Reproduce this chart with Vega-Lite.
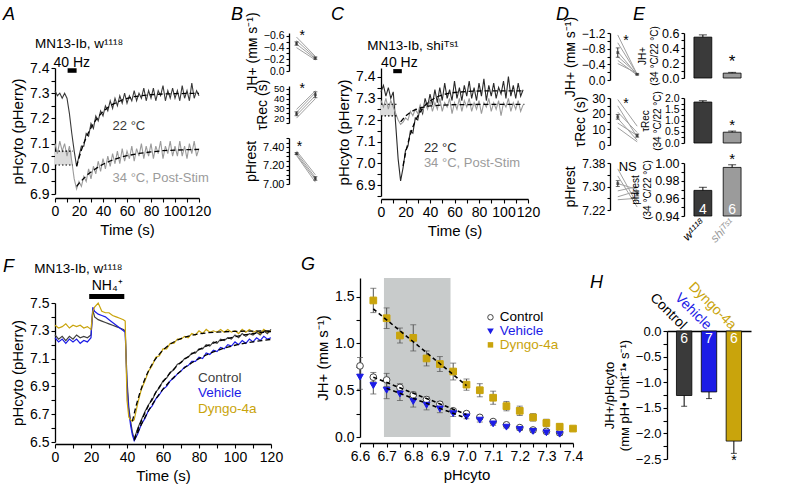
{
"$schema":"https://vega.github.io/schema/vega-lite/v6.json",
"background":"white",
"padding":{"left":2,"top":5,"right":2,"bottom":2},
"config":{"font":"Liberation Sans","view":{"stroke":null},
 "axis":{"grid":false,"domainColor":"#000","tickColor":"#000","labelColor":"#000","titleColor":"#000","titleFontWeight":"normal","labelFontSize":14,"titleFontSize":15,"tickSize":4,"labelPadding":2,"titlePadding":4,"labelOverlap":false,"labelSeparation":-500,"labelFlush":false,"domainWidth":1.3,"tickWidth":1.1}},
"spacing":245,"bounds":"flush",
"resolve":{"scale":{"color":"independent","fill":"independent","stroke":"independent","shape":"independent"}},
"vconcat":[
{"hconcat":[
 {"vconcat":[
  {"width":144,"height":35,"data":{"values":[]},"mark":"text"},
  {"width":144,"height":126,
   "layer":[
    {"data":{"values":[{}]},"mark":{"type":"rect","color":"#dcdcdc"},"encoding":{"x":{"datum":0},"x2":{"datum":14},"y":{"datum":7.015},"y2":{"datum":7.07}}},
    {"data":{"values":[
{"t":0,"d":7.31,"g":7.10},{"t":2,"d":7.29,"g":7.06},{"t":4,"d":7.30,"g":7.11},{"t":6,"d":7.28,"g":7.07},{"t":8,"d":7.30,"g":7.10},{"t":10,"d":7.28,"g":7.05},{"t":12,"d":7.22,"g":7.09},{"t":14,"d":7.14,"g":7.03},{"t":16,"d":7.07,"g":6.96},{"t":18,"d":7.01,"g":6.92},{"t":20,"d":7.05,"g":6.95},{"t":22,"d":7.09,"g":6.93},{"t":24,"d":7.09,"g":6.97},{"t":26,"d":7.14,"g":6.95},{"t":28,"d":7.13,"g":7.00},{"t":30,"d":7.18,"g":6.96},{"t":32,"d":7.16,"g":7.01},{"t":34,"d":7.21,"g":6.98},{"t":36,"d":7.19,"g":7.03},{"t":38,"d":7.23,"g":6.99},{"t":40,"d":7.21,"g":7.04},{"t":42,"d":7.25,"g":7.00},{"t":44,"d":7.23,"g":7.05},{"t":46,"d":7.27,"g":7.01},{"t":48,"d":7.24,"g":7.06},{"t":50,"d":7.28,"g":7.02},{"t":52,"d":7.25,"g":7.07},{"t":54,"d":7.29,"g":7.02},{"t":56,"d":7.26,"g":7.08},{"t":58,"d":7.30,"g":7.03},{"t":60,"d":7.26,"g":7.07},{"t":62,"d":7.29,"g":7.04},{"t":64,"d":7.27,"g":7.09},{"t":66,"d":7.31,"g":7.03},{"t":68,"d":7.27,"g":7.08},{"t":70,"d":7.30,"g":7.05},{"t":72,"d":7.28,"g":7.10},{"t":74,"d":7.32,"g":7.04},{"t":76,"d":7.27,"g":7.09},{"t":78,"d":7.31,"g":7.05},{"t":80,"d":7.28,"g":7.10},{"t":82,"d":7.32,"g":7.04},{"t":84,"d":7.27,"g":7.09},{"t":86,"d":7.31,"g":7.06},{"t":88,"d":7.29,"g":7.11},{"t":90,"d":7.33,"g":7.04},{"t":92,"d":7.27,"g":7.09},{"t":94,"d":7.31,"g":7.06},{"t":96,"d":7.28,"g":7.11},{"t":98,"d":7.32,"g":7.05},{"t":100,"d":7.28,"g":7.09},{"t":102,"d":7.31,"g":7.05},{"t":104,"d":7.27,"g":7.11},{"t":106,"d":7.33,"g":7.05},{"t":108,"d":7.28,"g":7.09},{"t":110,"d":7.31,"g":7.04},{"t":112,"d":7.27,"g":7.10},{"t":114,"d":7.34,"g":7.06},{"t":116,"d":7.28,"g":7.11},{"t":118,"d":7.31,"g":7.05},{"t":120,"d":7.29,"g":7.08}]},
     "transform":[{"fold":["g","d"],"as":["k","v"]}],
     "mark":{"type":"line","strokeWidth":1.1},
     "encoding":{
      "x":{"field":"t","type":"quantitative","scale":{"domain":[0,120],"nice":false},"axis":{"values":[0,10,20,30,40,50,60,70,80,90,100,110,120],"tickCount":100,"labelExpr":"datum.value % 20 == 0 ? format(datum.value,'d') : ''","title":"Time (s)","offset":4}},
      "y":{"field":"v","type":"quantitative","scale":{"domain":[6.9,7.4],"nice":false,"zero":false},"axis":{"values":[6.9,6.95,7,7.05,7.1,7.15,7.2,7.25,7.3,7.35,7.4],"tickCount":100,"labelExpr":"round(datum.value*20)%2==0 ? format(datum.value,'.1f') : ''","title":"pHcyto (pHerry)"}},
      "color":{"field":"k","type":"nominal","scale":{"domain":["d","g"],"range":["#3a3a3a","#9b9b9b"]},"legend":null}}},
    {"data":{"values":[
{"k":"d","t":18,"v":7.010},{"k":"d","t":20,"v":7.044},{"k":"d","t":22,"v":7.074},{"k":"d","t":24,"v":7.101},{"k":"d","t":26,"v":7.124},{"k":"d","t":28,"v":7.145},{"k":"d","t":30,"v":7.163},{"k":"d","t":32,"v":7.179},{"k":"d","t":34,"v":7.193},{"k":"d","t":36,"v":7.206},{"k":"d","t":38,"v":7.217},{"k":"d","t":40,"v":7.227},{"k":"d","t":44,"v":7.243},{"k":"d","t":48,"v":7.256},{"k":"d","t":52,"v":7.265},{"k":"d","t":56,"v":7.273},{"k":"d","t":60,"v":7.279},{"k":"d","t":66,"v":7.286},{"k":"d","t":72,"v":7.290},{"k":"d","t":80,"v":7.294},{"k":"d","t":90,"v":7.297},{"k":"d","t":100,"v":7.298},{"k":"d","t":110,"v":7.299},{"k":"d","t":120,"v":7.299},
{"k":"g","t":18,"v":6.930},{"k":"g","t":20,"v":6.942},{"k":"g","t":24,"v":6.962},{"k":"g","t":28,"v":6.980},{"k":"g","t":32,"v":6.994},{"k":"g","t":36,"v":7.007},{"k":"g","t":40,"v":7.018},{"k":"g","t":45,"v":7.029},{"k":"g","t":50,"v":7.038},{"k":"g","t":55,"v":7.046},{"k":"g","t":60,"v":7.052},{"k":"g","t":70,"v":7.061},{"k":"g","t":80,"v":7.067},{"k":"g","t":90,"v":7.072},{"k":"g","t":100,"v":7.074},{"k":"g","t":110,"v":7.076},{"k":"g","t":120,"v":7.077}]},
     "mark":{"type":"line","color":"#000","strokeDash":[5,3],"strokeWidth":1.3},
     "encoding":{"x":{"field":"t","type":"quantitative"},"y":{"field":"v","type":"quantitative"},"detail":{"field":"k"}}},
    {"data":{"values":[{}]},"mark":{"type":"rule","strokeDash":[1.5,2],"color":"#000","strokeWidth":1.2},"encoding":{"x":{"datum":0},"x2":{"datum":15},"y":{"datum":7.07}}},
    {"data":{"values":[{}]},"mark":{"type":"rule","strokeDash":[1.5,2],"color":"#000","strokeWidth":1.2},"encoding":{"x":{"datum":0},"x2":{"datum":15},"y":{"datum":7.015}}},
    {"data":{"values":[{}]},"mark":{"type":"rect","color":"#000"},"encoding":{"x":{"datum":10.5},"x2":{"datum":18},"y":{"datum":7.381},"y2":{"datum":7.399}}},
    {"data":{"values":[{}]},"mark":{"type":"text","text":"40 Hz","fontSize":14,"baseline":"middle"},"encoding":{"x":{"datum":14},"y":{"datum":7.42}}},
    {"data":{"values":[{}]},"mark":{"type":"text","text":"MN13-Ib, w¹¹¹⁸","fontSize":13.5,"baseline":"middle"},"encoding":{"x":{"datum":20},"y":{"datum":7.495}}},
    {"data":{"values":[{}]},"mark":{"type":"text","text":"22 °C","fontSize":13,"align":"left","baseline":"middle","color":"#3a3a3a"},"encoding":{"x":{"datum":48},"y":{"datum":7.17}}},
    {"data":{"values":[{}]},"mark":{"type":"text","text":"34 °C, Post-Stim","fontSize":13,"align":"left","baseline":"middle","color":"#9b9b9b"},"encoding":{"x":{"datum":48},"y":{"datum":6.965}}},
    {"data":{"values":[{}]},"mark":{"type":"text","text":"A","fontSize":18,"fontStyle":"italic","align":"left","baseline":"top"},"encoding":{"x":{"datum":-43.3},"y":{"datum":7.646}}}
   ]}
 ],"spacing":0,"bounds":"flush"},
 {"width":234,"height":1,"data":{"values":[]},"mark":"text"},
 {"vconcat":[
  {"width":32,"height":38,
   "layer":[
    {"data":{"values":[{"id":1,"c":0,"v":-0.58},{"id":1,"c":1,"v":-0.25},{"id":2,"c":0,"v":-0.52},{"id":2,"c":1,"v":-0.23},{"id":3,"c":0,"v":-0.46},{"id":3,"c":1,"v":-0.21},{"id":4,"c":0,"v":-0.40},{"id":4,"c":1,"v":-0.19}]},
     "mark":{"type":"line","color":"#a0a0a0","strokeWidth":1},
     "encoding":{"x":{"field":"c","type":"quantitative","scale":{"domain":[-0.4,1.3],"nice":false,"zero":false},"axis":null},
      "y":{"field":"v","type":"quantitative","scale":{"domain":[-0.65,0],"reverse":true,"nice":false,"zero":false},"axis":{"values":[-0.6,-0.5,-0.4,-0.3,-0.2,-0.1,0],"tickCount":100,"labelExpr":"indexof([-0.6,-0.4,-0.2,0],datum.value)>=0 ? format(datum.value,'.1f') : ''","title":"JH+ (mᴍ s⁻¹)","labelFontSize":10.5,"titleFontSize":14,"tickSize":3}},
      "detail":{"field":"id"}}},
    {"data":{"values":[{"c":0,"m":-0.47,"lo":-0.50,"hi":-0.44},{"c":1,"m":-0.22,"lo":-0.24,"hi":-0.20}]},
     "layer":[
      {"mark":{"type":"rule","color":"#333"},"encoding":{"x":{"field":"c","type":"quantitative"},"y":{"field":"lo","type":"quantitative"},"y2":{"field":"hi"}}},
      {"mark":{"type":"tick","orient":"horizontal","color":"#333","size":4,"thickness":1},"encoding":{"x":{"field":"c","type":"quantitative"},"y":{"field":"lo","type":"quantitative"}}},
      {"mark":{"type":"tick","orient":"horizontal","color":"#333","size":4,"thickness":1},"encoding":{"x":{"field":"c","type":"quantitative"},"y":{"field":"hi","type":"quantitative"}}},
      {"mark":{"type":"point","shape":"square","filled":true,"color":"#333","size":8},"encoding":{"x":{"field":"c","type":"quantitative"},"y":{"field":"m","type":"quantitative"}}}]},
    {"data":{"values":[{}]},"mark":{"type":"text","text":"*","fontSize":14,"baseline":"middle"},"encoding":{"x":{"datum":0.3},"y":{"datum":-0.6}}},
    {"data":{"values":[{}]},"mark":{"type":"text","text":"B","fontSize":18,"fontStyle":"italic","align":"left","baseline":"top"},"encoding":{"x":{"datum":-3.48},"y":{"datum":-1.112}}}
   ]},
  {"width":32,"height":37,
   "layer":[
    {"data":{"values":[{"id":1,"c":0,"v":20},{"id":1,"c":1,"v":40},{"id":2,"c":0,"v":23},{"id":2,"c":1,"v":43},{"id":3,"c":0,"v":26},{"id":3,"c":1,"v":46},{"id":4,"c":0,"v":29},{"id":4,"c":1,"v":48}]},
     "mark":{"type":"line","color":"#a0a0a0","strokeWidth":1},
     "encoding":{"x":{"field":"c","type":"quantitative","scale":{"domain":[-0.4,1.3],"nice":false,"zero":false},"axis":null},
      "y":{"field":"v","type":"quantitative","scale":{"domain":[15,53],"nice":false,"zero":false},"axis":{"values":[15,20,25,30,35,40,45,50],"tickCount":100,"labelExpr":"datum.value%10==0 ? format(datum.value,'d') : ''","title":"τRec (s)","labelFontSize":9.5,"titleFontSize":14,"tickSize":3}},
      "detail":{"field":"id"}}},
    {"data":{"values":[{"c":0,"m":24.5,"lo":22.5,"hi":26.5},{"c":1,"m":44,"lo":41,"hi":47}]},
     "layer":[
      {"mark":{"type":"rule","color":"#333"},"encoding":{"x":{"field":"c","type":"quantitative"},"y":{"field":"lo","type":"quantitative"},"y2":{"field":"hi"}}},
      {"mark":{"type":"tick","orient":"horizontal","color":"#333","size":4,"thickness":1},"encoding":{"x":{"field":"c","type":"quantitative"},"y":{"field":"lo","type":"quantitative"}}},
      {"mark":{"type":"tick","orient":"horizontal","color":"#333","size":4,"thickness":1},"encoding":{"x":{"field":"c","type":"quantitative"},"y":{"field":"hi","type":"quantitative"}}},
      {"mark":{"type":"point","shape":"square","filled":true,"color":"#333","size":8},"encoding":{"x":{"field":"c","type":"quantitative"},"y":{"field":"m","type":"quantitative"}}}]},
    {"data":{"values":[{}]},"mark":{"type":"text","text":"*","fontSize":14,"baseline":"middle"},"encoding":{"x":{"datum":0.3},"y":{"datum":50}}}
   ]},
  {"width":32,"height":46,
   "layer":[
    {"data":{"values":[{"id":1,"c":0,"v":7.36},{"id":1,"c":1,"v":7.10},{"id":2,"c":0,"v":7.34},{"id":2,"c":1,"v":7.07},{"id":3,"c":0,"v":7.32},{"id":3,"c":1,"v":7.05},{"id":4,"c":0,"v":7.31},{"id":4,"c":1,"v":7.02}]},
     "mark":{"type":"line","color":"#a0a0a0","strokeWidth":1},
     "encoding":{"x":{"field":"c","type":"quantitative","scale":{"domain":[-0.4,1.3],"nice":false,"zero":false},"axis":null},
      "y":{"field":"v","type":"quantitative","scale":{"domain":[7.0,7.5],"nice":false,"zero":false},"axis":{"values":[7,7.05,7.1,7.15,7.2,7.25,7.3,7.35,7.4,7.45,7.5],"tickCount":100,"labelExpr":"round(datum.value*100)%20==0 && datum.value<7.45 ? format(datum.value,'.2f') : ''","title":"pHrest","labelFontSize":11,"titleFontSize":14,"tickSize":3}},
      "detail":{"field":"id"}}},
    {"data":{"values":[{"c":0,"m":7.33,"lo":7.32,"hi":7.34},{"c":1,"m":7.06,"lo":7.04,"hi":7.08}]},
     "layer":[
      {"mark":{"type":"rule","color":"#333"},"encoding":{"x":{"field":"c","type":"quantitative"},"y":{"field":"lo","type":"quantitative"},"y2":{"field":"hi"}}},
      {"mark":{"type":"tick","orient":"horizontal","color":"#333","size":4,"thickness":1},"encoding":{"x":{"field":"c","type":"quantitative"},"y":{"field":"lo","type":"quantitative"}}},
      {"mark":{"type":"tick","orient":"horizontal","color":"#333","size":4,"thickness":1},"encoding":{"x":{"field":"c","type":"quantitative"},"y":{"field":"hi","type":"quantitative"}}},
      {"mark":{"type":"point","shape":"square","filled":true,"color":"#333","size":8},"encoding":{"x":{"field":"c","type":"quantitative"},"y":{"field":"m","type":"quantitative"}}}]},
    {"data":{"values":[{}]},"mark":{"type":"text","text":"*","fontSize":14,"baseline":"middle"},"encoding":{"x":{"datum":0.15},"y":{"datum":7.4}}}
   ]}
 ],"spacing":15,"bounds":"flush"},
 {"width":92,"height":1,"data":{"values":[]},"mark":"text"},
 {"vconcat":[
  {"width":147,"height":35,"data":{"values":[]},"mark":"text"},
  {"width":147,"height":128,
   "layer":[
    {"data":{"values":[{}]},"mark":{"type":"rect","color":"#dcdcdc"},"encoding":{"x":{"datum":0},"x2":{"datum":12},"y":{"datum":7.219},"y2":{"datum":7.273}}},
    {"data":{"values":[
{"t":0,"d":7.33,"g":7.29},{"t":2,"d":7.36,"g":7.26},{"t":4,"d":7.31,"g":7.30},{"t":6,"d":7.35,"g":7.25},{"t":8,"d":7.30,"g":7.29},{"t":10,"d":7.33,"g":7.26},{"t":12,"d":7.18,"g":7.23},{"t":14,"d":7.02,"g":7.20},{"t":16,"d":6.92,"g":7.18},{"t":18,"d":6.98,"g":7.19},{"t":20,"d":7.06,"g":7.21},{"t":22,"d":7.08,"g":7.20},{"t":24,"d":7.15,"g":7.24},{"t":26,"d":7.14,"g":7.22},{"t":28,"d":7.21,"g":7.25},{"t":30,"d":7.20,"g":7.23},{"t":32,"d":7.26,"g":7.27},{"t":34,"d":7.23,"g":7.24},{"t":36,"d":7.30,"g":7.28},{"t":38,"d":7.26,"g":7.25},{"t":40,"d":7.32,"g":7.29},{"t":42,"d":7.27,"g":7.24},{"t":44,"d":7.34,"g":7.28},{"t":46,"d":7.28,"g":7.25},{"t":48,"d":7.35,"g":7.30},{"t":50,"d":7.29,"g":7.24},{"t":52,"d":7.37,"g":7.28},{"t":54,"d":7.30,"g":7.26},{"t":56,"d":7.34,"g":7.30},{"t":58,"d":7.29,"g":7.23},{"t":60,"d":7.38,"g":7.28},{"t":62,"d":7.30,"g":7.25},{"t":64,"d":7.35,"g":7.30},{"t":66,"d":7.29,"g":7.24},{"t":68,"d":7.36,"g":7.29},{"t":70,"d":7.31,"g":7.26},{"t":72,"d":7.38,"g":7.30},{"t":74,"d":7.30,"g":7.24},{"t":76,"d":7.35,"g":7.28},{"t":78,"d":7.29,"g":7.25},{"t":80,"d":7.37,"g":7.29},{"t":82,"d":7.31,"g":7.23},{"t":84,"d":7.39,"g":7.28},{"t":86,"d":7.29,"g":7.26},{"t":88,"d":7.36,"g":7.30},{"t":90,"d":7.31,"g":7.24},{"t":92,"d":7.37,"g":7.28},{"t":94,"d":7.30,"g":7.25},{"t":96,"d":7.35,"g":7.29},{"t":98,"d":7.32,"g":7.22},{"t":100,"d":7.38,"g":7.28},{"t":102,"d":7.30,"g":7.26},{"t":104,"d":7.40,"g":7.30},{"t":106,"d":7.31,"g":7.24},{"t":108,"d":7.36,"g":7.28},{"t":110,"d":7.30,"g":7.25},{"t":112,"d":7.37,"g":7.29},{"t":114,"d":7.31,"g":7.24},{"t":116,"d":7.34,"g":7.27}]},
     "transform":[{"fold":["d","g"],"as":["k","v"]}],
     "mark":{"type":"line","strokeWidth":1.1},
     "encoding":{
      "x":{"field":"t","type":"quantitative","scale":{"domain":[0,120],"nice":false},"axis":{"values":[0,10,20,30,40,50,60,70,80,90,100,110,120],"tickCount":100,"labelExpr":"datum.value % 20 == 0 ? format(datum.value,'d') : ''","title":"Time (s)","offset":3}},
      "y":{"field":"v","type":"quantitative","scale":{"domain":[6.85,7.44],"nice":false,"zero":false},"axis":{"values":[6.85,6.9,6.95,7,7.05,7.1,7.15,7.2,7.25,7.3,7.35,7.4],"tickCount":100,"labelExpr":"round(datum.value*20)%2==0 ? format(datum.value,'.1f') : ''","title":"pHcyto (pHerry)"}},
      "color":{"field":"k","type":"nominal","scale":{"domain":["d","g"],"range":["#2a2a2a","#9b9b9b"]},"legend":null}}},
    {"data":{"values":[
{"k":"d","t":18,"v":6.989},{"k":"d","t":20,"v":7.047},{"k":"d","t":22,"v":7.094},{"k":"d","t":24,"v":7.134},{"k":"d","t":26,"v":7.168},{"k":"d","t":28,"v":7.196},{"k":"d","t":30,"v":7.219},{"k":"d","t":32,"v":7.238},{"k":"d","t":34,"v":7.254},{"k":"d","t":36,"v":7.268},{"k":"d","t":38,"v":7.279},{"k":"d","t":40,"v":7.288},{"k":"d","t":44,"v":7.302},{"k":"d","t":48,"v":7.312},{"k":"d","t":52,"v":7.319},{"k":"d","t":56,"v":7.324},{"k":"d","t":60,"v":7.327},{"k":"d","t":70,"v":7.332},{"k":"d","t":80,"v":7.334},{"k":"d","t":100,"v":7.335},{"k":"d","t":117,"v":7.335},
{"k":"g","t":16,"v":7.192},{"k":"g","t":20,"v":7.218},{"k":"g","t":24,"v":7.236},{"k":"g","t":28,"v":7.248},{"k":"g","t":32,"v":7.256},{"k":"g","t":36,"v":7.261},{"k":"g","t":40,"v":7.265},{"k":"g","t":50,"v":7.269},{"k":"g","t":60,"v":7.271},{"k":"g","t":80,"v":7.272},{"k":"g","t":117,"v":7.272}]},
     "mark":{"type":"line","color":"#000","strokeDash":[5,3],"strokeWidth":1.3},
     "encoding":{"x":{"field":"t","type":"quantitative"},"y":{"field":"v","type":"quantitative"},"detail":{"field":"k"}}},
    {"data":{"values":[{}]},"mark":{"type":"rule","strokeDash":[1.5,2],"color":"#000","strokeWidth":1.2},"encoding":{"x":{"datum":0},"x2":{"datum":14},"y":{"datum":7.273}}},
    {"data":{"values":[{}]},"mark":{"type":"rule","strokeDash":[1.5,2],"color":"#000","strokeWidth":1.2},"encoding":{"x":{"datum":0},"x2":{"datum":14},"y":{"datum":7.219}}},
    {"data":{"values":[{}]},"mark":{"type":"rect","color":"#000"},"encoding":{"x":{"datum":10},"x2":{"datum":17},"y":{"datum":7.416},"y2":{"datum":7.435}}},
    {"data":{"values":[{}]},"mark":{"type":"text","text":"40 Hz","fontSize":14,"baseline":"middle"},"encoding":{"x":{"datum":15},"y":{"datum":7.463}}},
    {"data":{"values":[{}]},"mark":{"type":"text","text":"MN13-Ib, shiᵀˢ¹","fontSize":13.5,"baseline":"middle"},"encoding":{"x":{"datum":26},"y":{"datum":7.541}}},
    {"data":{"values":[{}]},"mark":{"type":"text","text":"22 °C","fontSize":13,"align":"left","baseline":"middle","color":"#2a2a2a"},"encoding":{"x":{"datum":35},"y":{"datum":7.07}}},
    {"data":{"values":[{}]},"mark":{"type":"text","text":"34 °C, Post-Stim","fontSize":13,"align":"left","baseline":"middle","color":"#9b9b9b"},"encoding":{"x":{"datum":35},"y":{"datum":7.0}}},
    {"data":{"values":[{}]},"mark":{"type":"text","text":"C","fontSize":18,"fontStyle":"italic","align":"left","baseline":"top"},"encoding":{"x":{"datum":-40.8},"y":{"datum":7.726}}}
   ]}
 ],"spacing":0,"bounds":"flush"},
 {"width":229,"height":1,"data":{"values":[]},"mark":"text"},
 {"vconcat":[
  {"width":33,"height":47,
   "layer":[
    {"data":{"values":[{"id":1,"c":0,"v":-1.15},{"id":1,"c":1,"v":-0.14},{"id":2,"c":0,"v":-0.95},{"id":2,"c":1,"v":-0.15},{"id":3,"c":0,"v":-0.72},{"id":3,"c":1,"v":-0.13},{"id":4,"c":0,"v":-0.6},{"id":4,"c":1,"v":-0.16},{"id":5,"c":0,"v":-0.5},{"id":5,"c":1,"v":-0.12},{"id":6,"c":0,"v":-0.42},{"id":6,"c":1,"v":-0.17}]},
     "mark":{"type":"line","color":"#a0a0a0","strokeWidth":1},
     "encoding":{"x":{"field":"c","type":"quantitative","scale":{"domain":[-0.4,1.3],"nice":false,"zero":false},"axis":null},
      "y":{"field":"v","type":"quantitative","scale":{"domain":[-1.2,0],"reverse":true,"nice":false,"zero":false},"axis":{"values":[-1.2,-1,-0.8,-0.6,-0.4,-0.2,0],"tickCount":100,"labelExpr":"indexof([-1.2,-0.8,-0.4,0],datum.value)>=0 ? format(datum.value,'.1f') : ''","title":"JH+ (mᴍ s⁻¹)","labelFontSize":12,"titleFontSize":14,"tickSize":3}},
      "detail":{"field":"id"}}},
    {"data":{"values":[{"c":0,"m":-0.7,"lo":-0.82,"hi":-0.58},{"c":1,"m":-0.145,"lo":-0.16,"hi":-0.13}]},
     "layer":[
      {"mark":{"type":"rule","color":"#333"},"encoding":{"x":{"field":"c","type":"quantitative"},"y":{"field":"lo","type":"quantitative"},"y2":{"field":"hi"}}},
      {"mark":{"type":"tick","orient":"horizontal","color":"#333","size":4,"thickness":1},"encoding":{"x":{"field":"c","type":"quantitative"},"y":{"field":"lo","type":"quantitative"}}},
      {"mark":{"type":"tick","orient":"horizontal","color":"#333","size":4,"thickness":1},"encoding":{"x":{"field":"c","type":"quantitative"},"y":{"field":"hi","type":"quantitative"}}},
      {"mark":{"type":"point","shape":"square","filled":true,"color":"#333","size":8},"encoding":{"x":{"field":"c","type":"quantitative"},"y":{"field":"m","type":"quantitative"}}}]},
    {"data":{"values":[{}]},"mark":{"type":"text","text":"*","fontSize":14,"baseline":"middle"},"encoding":{"x":{"datum":0.42},"y":{"datum":-1.0}}},
    {"data":{"values":[{}]},"mark":{"type":"text","text":"D","fontSize":18,"fontStyle":"italic","align":"left","baseline":"top"},"encoding":{"x":{"datum":-3.18},"y":{"datum":-1.889}}},
    {"data":{"values":[{}]},"mark":{"type":"text","text":"E","fontSize":18,"fontStyle":"italic","align":"left","baseline":"top"},"encoding":{"x":{"datum":0.785},"y":{"datum":-1.889}}}
   ]},
  {"width":33,"height":47,
   "layer":[
    {"data":{"values":[{"id":1,"c":0,"v":29},{"id":1,"c":1,"v":12},{"id":2,"c":0,"v":25},{"id":2,"c":1,"v":5},{"id":3,"c":0,"v":21},{"id":3,"c":1,"v":8},{"id":4,"c":0,"v":17},{"id":4,"c":1,"v":3},{"id":5,"c":0,"v":14},{"id":5,"c":1,"v":6},{"id":6,"c":0,"v":11},{"id":6,"c":1,"v":2}]},
     "mark":{"type":"line","color":"#a0a0a0","strokeWidth":1},
     "encoding":{"x":{"field":"c","type":"quantitative","scale":{"domain":[-0.4,1.3],"nice":false,"zero":false},"axis":null},
      "y":{"field":"v","type":"quantitative","scale":{"domain":[0,30],"nice":false},"axis":{"values":[0,5,10,15,20,25,30],"tickCount":100,"labelExpr":"datum.value%10==0 ? format(datum.value,'d') : ''","title":"τRec (s)","labelFontSize":12,"titleFontSize":14,"tickSize":3}},
      "detail":{"field":"id"}}},
    {"data":{"values":[{"c":0,"m":18,"lo":16.5,"hi":19.5},{"c":1,"m":6,"lo":5,"hi":7}]},
     "layer":[
      {"mark":{"type":"rule","color":"#333"},"encoding":{"x":{"field":"c","type":"quantitative"},"y":{"field":"lo","type":"quantitative"},"y2":{"field":"hi"}}},
      {"mark":{"type":"tick","orient":"horizontal","color":"#333","size":4,"thickness":1},"encoding":{"x":{"field":"c","type":"quantitative"},"y":{"field":"lo","type":"quantitative"}}},
      {"mark":{"type":"tick","orient":"horizontal","color":"#333","size":4,"thickness":1},"encoding":{"x":{"field":"c","type":"quantitative"},"y":{"field":"hi","type":"quantitative"}}},
      {"mark":{"type":"point","shape":"square","filled":true,"color":"#333","size":8},"encoding":{"x":{"field":"c","type":"quantitative"},"y":{"field":"m","type":"quantitative"}}}]},
    {"data":{"values":[{}]},"mark":{"type":"text","text":"*","fontSize":14,"baseline":"middle"},"encoding":{"x":{"datum":0.42},"y":{"datum":26}}}
   ]},
  {"width":33,"height":47,
   "layer":[
    {"data":{"values":[{"id":1,"c":0,"v":7.36},{"id":1,"c":1,"v":7.24},{"id":2,"c":0,"v":7.336},{"id":2,"c":1,"v":7.23},{"id":3,"c":0,"v":7.31},{"id":3,"c":1,"v":7.29},{"id":4,"c":0,"v":7.285},{"id":4,"c":1,"v":7.30},{"id":5,"c":0,"v":7.265},{"id":5,"c":1,"v":7.285},{"id":6,"c":0,"v":7.255},{"id":6,"c":1,"v":7.26}]},
     "mark":{"type":"line","color":"#a0a0a0","strokeWidth":1},
     "encoding":{"x":{"field":"c","type":"quantitative","scale":{"domain":[-0.4,1.3],"nice":false,"zero":false},"axis":null},
      "y":{"field":"v","type":"quantitative","scale":{"domain":[7.22,7.38],"nice":false,"zero":false},"axis":{"values":[7.22,7.26,7.3,7.34,7.38],"tickCount":100,"labelExpr":"indexof([7.22,7.3,7.38],datum.value)>=0 ? format(datum.value,'.2f') : ''","title":"pHrest","labelFontSize":12,"titleFontSize":14,"tickSize":3}},
      "detail":{"field":"id"}}},
    {"data":{"values":[{"c":0,"m":7.31,"lo":7.30,"hi":7.32},{"c":1,"m":7.275,"lo":7.268,"hi":7.282}]},
     "layer":[
      {"mark":{"type":"rule","color":"#333"},"encoding":{"x":{"field":"c","type":"quantitative"},"y":{"field":"lo","type":"quantitative"},"y2":{"field":"hi"}}},
      {"mark":{"type":"tick","orient":"horizontal","color":"#333","size":4,"thickness":1},"encoding":{"x":{"field":"c","type":"quantitative"},"y":{"field":"lo","type":"quantitative"}}},
      {"mark":{"type":"tick","orient":"horizontal","color":"#333","size":4,"thickness":1},"encoding":{"x":{"field":"c","type":"quantitative"},"y":{"field":"hi","type":"quantitative"}}},
      {"mark":{"type":"point","shape":"square","filled":true,"color":"#333","size":8},"encoding":{"x":{"field":"c","type":"quantitative"},"y":{"field":"m","type":"quantitative"}}}]},
    {"data":{"values":[{}]},"mark":{"type":"text","text":"NS","fontSize":13,"align":"left","baseline":"middle"},"encoding":{"x":{"datum":0.05},"y":{"datum":7.365}}}
   ]}
 ],"spacing":18,"bounds":"flush"},
 {"width":74,"height":1,"data":{"values":[]},"mark":"text"},
 {"vconcat":[
  {"width":67,"height":45,
   "data":{"values":[{"g":"w1118","m":0.545,"hi":0.575},{"g":"shiTS1","m":0.065,"hi":0.075}]},
   "encoding":{"x":{"field":"g","type":"nominal","sort":["w1118","shiTS1"],"scale":{"paddingInner":0.39,"paddingOuter":0.34},"axis":null}},
   "layer":[
    {"mark":{"type":"bar","stroke":"#000","strokeWidth":0.8},"encoding":{"y":{"field":"m","type":"quantitative","scale":{"domain":[0,0.6],"nice":false},"axis":{"values":[0,0.1,0.2,0.3,0.4,0.5,0.6],"tickCount":100,"labelExpr":"round(datum.value*10)%2==0 ? format(datum.value,'.1f') : ''","title":["JH+","(34 °C/22 °C)"],"titleFontSize":10,"labelFontSize":12.5,"titlePadding":2,"tickSize":3}},"y2":{"datum":0},"fill":{"field":"g","type":"nominal","scale":{"domain":["w1118","shiTS1"],"range":["#3a3a3a","#9b9b9b"]},"legend":null}}},
    {"mark":{"type":"rule","color":"#000"},"encoding":{"y":{"field":"m","type":"quantitative"},"y2":{"field":"hi"}}},
    {"mark":{"type":"tick","orient":"horizontal","color":"#000","size":8,"thickness":1},"encoding":{"y":{"field":"hi","type":"quantitative"}}},
    {"transform":[{"filter":"datum.g=='shiTS1'"}],"mark":{"type":"text","text":"*","fontSize":17,"baseline":"middle"},"encoding":{"y":{"datum":0.21}}}
   ]},
  {"width":67,"height":45,
   "data":{"values":[{"g":"w1118","m":1.82,"hi":1.88},{"g":"shiTS1","m":0.48,"hi":0.53}]},
   "encoding":{"x":{"field":"g","type":"nominal","sort":["w1118","shiTS1"],"scale":{"paddingInner":0.39,"paddingOuter":0.34},"axis":null}},
   "layer":[
    {"mark":{"type":"bar","stroke":"#000","strokeWidth":0.8},"encoding":{"y":{"field":"m","type":"quantitative","scale":{"domain":[0,2],"nice":false},"axis":{"values":[0,0.25,0.5,0.75,1,1.25,1.5,1.75,2],"tickCount":100,"labelExpr":"round(datum.value*4)%2==0 ? format(datum.value,'.1f') : ''","title":["τRec","(34 °C/22 °C)"],"titleFontSize":10,"labelFontSize":10.5,"titlePadding":2,"tickSize":3}},"y2":{"datum":0},"fill":{"field":"g","type":"nominal","scale":{"domain":["w1118","shiTS1"],"range":["#3a3a3a","#9b9b9b"]},"legend":null}}},
    {"mark":{"type":"rule","color":"#000"},"encoding":{"y":{"field":"m","type":"quantitative"},"y2":{"field":"hi"}}},
    {"mark":{"type":"tick","orient":"horizontal","color":"#000","size":8,"thickness":1},"encoding":{"y":{"field":"hi","type":"quantitative"}}},
    {"transform":[{"filter":"datum.g=='shiTS1'"}],"mark":{"type":"text","text":"*","fontSize":15,"baseline":"middle"},"encoding":{"y":{"datum":0.8}}}
   ]},
  {"width":67,"height":53,
   "data":{"values":[{"g":"w1118","m":0.969,"hi":0.9725,"n":4},{"g":"shiTS1","m":0.995,"hi":0.998,"n":6}]},
   "encoding":{"x":{"field":"g","type":"nominal","sort":["w1118","shiTS1"],"scale":{"paddingInner":0.39,"paddingOuter":0.34},"axis":{"title":null,"ticks":false,"domain":false,"labelAngle":-45,"labelAlign":"right","labelBaseline":"middle","labelFontSize":12,"labelFontStyle":"italic","labelPadding":4,"labelExpr":"datum.value=='w1118' ? 'w¹¹¹⁸' : 'shiᵀˢ¹'","labelColor":{"condition":{"test":"datum.value=='shiTS1'","value":"#9b9b9b"},"value":"#000"}}}},
   "layer":[
    {"mark":{"type":"bar","stroke":"#000","strokeWidth":0.8},"encoding":{"y":{"field":"m","type":"quantitative","scale":{"domain":[0.94,1.0],"nice":false,"zero":false},"axis":{"values":[0.94,0.95,0.96,0.97,0.98,0.99,1.0],"tickCount":100,"labelExpr":"round(datum.value*100)%2==0 ? format(datum.value,'.2f') : ''","title":["pHrest","(34 °C/22 °C)"],"titleFontSize":10,"labelFontSize":12.5,"titlePadding":2,"tickSize":3}},"y2":{"datum":0.94},"fill":{"field":"g","type":"nominal","scale":{"domain":["w1118","shiTS1"],"range":["#3a3a3a","#9b9b9b"]},"legend":null}}},
    {"mark":{"type":"rule","color":"#000"},"encoding":{"y":{"field":"m","type":"quantitative"},"y2":{"field":"hi"}}},
    {"mark":{"type":"tick","orient":"horizontal","color":"#000","size":8,"thickness":1},"encoding":{"y":{"field":"hi","type":"quantitative"}}},
    {"mark":{"type":"text","color":"#fff","fontSize":14,"baseline":"middle"},"encoding":{"y":{"datum":0.9465},"text":{"field":"n"}}},
    {"transform":[{"filter":"datum.g=='shiTS1'"}],"mark":{"type":"text","text":"*","fontSize":15,"baseline":"middle"},"encoding":{"y":{"datum":1.004}}}
   ]}
 ],"spacing":20,"bounds":"flush"}
],"spacing":0,"bounds":"flush","resolve":{"scale":{"color":"independent","fill":"independent","stroke":"independent","shape":"independent"}}},
{"hconcat":[
 {"vconcat":[
  {"width":216,"height":25,"data":{"values":[]},"mark":"text"},
  {"width":216,"height":139,
   "layer":[
    {"data":{"values":[
{"t":0,"c":7.27,"v":7.25,"y":7.34},{"t":2,"c":7.24,"v":7.22,"y":7.32},{"t":4,"c":7.26,"v":7.24,"y":7.33},{"t":6,"c":7.23,"v":7.21,"y":7.35},{"t":8,"c":7.26,"v":7.24,"y":7.32},{"t":10,"c":7.24,"v":7.22,"y":7.34},{"t":12,"c":7.27,"v":7.24,"y":7.33},{"t":14,"c":7.25,"v":7.21,"y":7.34},{"t":16,"c":7.26,"v":7.23,"y":7.32},{"t":18,"c":7.25,"v":7.22,"y":7.33},{"t":20,"c":7.27,"v":7.25,"y":7.31},{"t":21,"c":7.45,"v":7.47,"y":7.44},{"t":22,"c":7.40,"v":7.44,"y":7.47},{"t":24,"c":7.38,"v":7.42,"y":7.50},{"t":26,"c":7.37,"v":7.41,"y":7.44},{"t":28,"c":7.36,"v":7.40,"y":7.43},{"t":30,"c":7.35,"v":7.38,"y":7.43},{"t":32,"c":7.34,"v":7.36,"y":7.41},{"t":34,"c":7.33,"v":7.34,"y":7.40},{"t":36,"c":7.32,"v":7.32,"y":7.39},{"t":38,"c":7.31,"v":7.30,"y":7.38},{"t":39,"c":7.30,"v":7.29,"y":7.37},{"t":40,"c":6.95,"v":6.90,"y":6.80},{"t":41,"c":6.75,"v":6.72,"y":6.68},{"t":42,"c":6.65,"v":6.62,"y":6.66},{"t":43,"c":6.57,"v":6.55,"y":6.65},{"t":44,"c":6.52,"v":6.51,"y":6.66},{"t":46,"c":6.60,"v":6.56,"y":6.78},{"t":48,"c":6.66,"v":6.63,"y":6.88},{"t":50,"c":6.72,"v":6.67,"y":6.94},{"t":52,"c":6.77,"v":6.73,"y":7.01},{"t":54,"c":6.80,"v":6.76,"y":7.05},{"t":56,"c":6.86,"v":6.81,"y":7.11},{"t":58,"c":6.89,"v":6.84,"y":7.12},{"t":60,"c":6.94,"v":6.88,"y":7.17},{"t":62,"c":6.96,"v":6.90,"y":7.17},{"t":64,"c":7.00,"v":6.94,"y":7.21},{"t":66,"c":7.02,"v":6.96,"y":7.21},{"t":68,"c":7.06,"v":6.99,"y":7.24},{"t":70,"c":7.07,"v":7.01,"y":7.24},{"t":72,"c":7.10,"v":7.04,"y":7.26},{"t":74,"c":7.11,"v":7.05,"y":7.25},{"t":76,"c":7.14,"v":7.08,"y":7.28},{"t":78,"c":7.14,"v":7.08,"y":7.27},{"t":80,"c":7.17,"v":7.11,"y":7.30},{"t":82,"c":7.17,"v":7.10,"y":7.28},{"t":84,"c":7.20,"v":7.14,"y":7.31},{"t":86,"c":7.19,"v":7.13,"y":7.29},{"t":88,"c":7.22,"v":7.16,"y":7.30},{"t":90,"c":7.21,"v":7.15,"y":7.29},{"t":92,"c":7.24,"v":7.18,"y":7.31},{"t":94,"c":7.23,"v":7.17,"y":7.29},{"t":96,"c":7.25,"v":7.20,"y":7.31},{"t":98,"c":7.24,"v":7.19,"y":7.29},{"t":100,"c":7.27,"v":7.22,"y":7.30},{"t":102,"c":7.25,"v":7.20,"y":7.28},{"t":104,"c":7.28,"v":7.23,"y":7.31},{"t":106,"c":7.26,"v":7.21,"y":7.29},{"t":108,"c":7.28,"v":7.24,"y":7.31},{"t":110,"c":7.27,"v":7.22,"y":7.29},{"t":112,"c":7.29,"v":7.25,"y":7.30},{"t":114,"c":7.27,"v":7.23,"y":7.28},{"t":116,"c":7.30,"v":7.26,"y":7.31},{"t":118,"c":7.28,"v":7.24,"y":7.29},{"t":120,"c":7.31,"v":7.25,"y":7.30}]},
     "transform":[{"fold":["c","v","y"],"as":["s","val"]}],
     "mark":{"type":"line","strokeWidth":1.2},
     "encoding":{
      "x":{"field":"t","type":"quantitative","scale":{"domain":[0,120],"nice":false},"axis":{"values":[0,10,20,30,40,50,60,70,80,90,100,110,120],"tickCount":100,"labelExpr":"datum.value % 20 == 0 ? format(datum.value,'d') : ''","title":"Time (s)","offset":2}},
      "y":{"field":"val","type":"quantitative","scale":{"domain":[6.5,7.5],"nice":false,"zero":false},"axis":{"values":[6.5,6.6,6.7,6.8,6.9,7,7.1,7.2,7.3,7.4,7.5],"tickCount":100,"labelExpr":"round(datum.value*10)%2==1 ? format(datum.value,'.1f') : ''","title":"pHcyto (pHerry)"}},
      "color":{"field":"s","type":"nominal","scale":{"domain":["c","v","y"],"range":["#3f3f3f","#1c1ce6","#c9a40c"]},"legend":null}}},
    {"data":{"values":[
{"s":"c","t":44,"v":6.520},{"s":"c","t":46,"v":6.590},{"s":"c","t":48,"v":6.653},{"s":"c","t":50,"v":6.711},{"s":"c","t":52,"v":6.764},{"s":"c","t":54,"v":6.812},{"s":"c","t":56,"v":6.856},{"s":"c","t":58,"v":6.897},{"s":"c","t":60,"v":6.933},{"s":"c","t":64,"v":6.998},{"s":"c","t":68,"v":7.051},{"s":"c","t":72,"v":7.096},{"s":"c","t":76,"v":7.133},{"s":"c","t":80,"v":7.164},{"s":"c","t":84,"v":7.190},{"s":"c","t":88,"v":7.212},{"s":"c","t":92,"v":7.230},{"s":"c","t":96,"v":7.245},{"s":"c","t":100,"v":7.257},{"s":"c","t":105,"v":7.270},{"s":"c","t":110,"v":7.280},{"s":"c","t":115,"v":7.288},{"s":"c","t":120,"v":7.295},
{"s":"v","t":44,"v":6.510},{"s":"v","t":46,"v":6.571},{"s":"v","t":48,"v":6.627},{"s":"v","t":50,"v":6.678},{"s":"v","t":52,"v":6.725},{"s":"v","t":54,"v":6.769},{"s":"v","t":56,"v":6.809},{"s":"v","t":58,"v":6.846},{"s":"v","t":60,"v":6.880},{"s":"v","t":64,"v":6.940},{"s":"v","t":68,"v":6.990},{"s":"v","t":72,"v":7.034},{"s":"v","t":76,"v":7.070},{"s":"v","t":80,"v":7.100},{"s":"v","t":84,"v":7.126},{"s":"v","t":88,"v":7.148},{"s":"v","t":92,"v":7.167},{"s":"v","t":96,"v":7.183},{"s":"v","t":100,"v":7.196},{"s":"v","t":105,"v":7.210},{"s":"v","t":110,"v":7.221},{"s":"v","t":115,"v":7.230},{"s":"v","t":120,"v":7.238},
{"s":"y","t":43,"v":6.650},{"s":"y","t":45,"v":6.758},{"s":"y","t":47,"v":6.848},{"s":"y","t":49,"v":6.923},{"s":"y","t":51,"v":6.986},{"s":"y","t":53,"v":7.038},{"s":"y","t":55,"v":7.082},{"s":"y","t":57,"v":7.118},{"s":"y","t":59,"v":7.148},{"s":"y","t":61,"v":7.173},{"s":"y","t":63,"v":7.195},{"s":"y","t":65,"v":7.212},{"s":"y","t":67,"v":7.227},{"s":"y","t":69,"v":7.239},{"s":"y","t":71,"v":7.249},{"s":"y","t":75,"v":7.265},{"s":"y","t":80,"v":7.278},{"s":"y","t":85,"v":7.286},{"s":"y","t":90,"v":7.291},{"s":"y","t":100,"v":7.296},{"s":"y","t":110,"v":7.298},{"s":"y","t":120,"v":7.299}]},
     "mark":{"type":"line","color":"#000","strokeDash":[5,3],"strokeWidth":1.3},
     "encoding":{"x":{"field":"t","type":"quantitative"},"y":{"field":"v","type":"quantitative"},"detail":{"field":"s"}}},
    {"data":{"values":[{}]},"mark":{"type":"rect","color":"#000"},"encoding":{"x":{"datum":19},"x2":{"datum":38.5},"y":{"datum":7.529},"y2":{"datum":7.565}}},
    {"data":{"values":[{}]},"mark":{"type":"text","text":"NH₄⁺","fontSize":14,"baseline":"middle"},"encoding":{"x":{"datum":29},"y":{"datum":7.62}}},
    {"data":{"values":[{}]},"mark":{"type":"text","text":"MN13-Ib, w¹¹¹⁸","fontSize":13.5,"baseline":"middle"},"encoding":{"x":{"datum":13},"y":{"datum":7.745}}},
    {"data":{"values":[{}]},"mark":{"type":"text","text":"Control","fontSize":13.5,"align":"left","baseline":"middle","color":"#3f3f3f"},"encoding":{"x":{"datum":79.4},"y":{"datum":6.96}}},
    {"data":{"values":[{}]},"mark":{"type":"text","text":"Vehicle","fontSize":13.5,"align":"left","baseline":"middle","color":"#1c1ce6"},"encoding":{"x":{"datum":79.4},"y":{"datum":6.85}}},
    {"data":{"values":[{}]},"mark":{"type":"text","text":"Dyngo-4a","fontSize":13.5,"align":"left","baseline":"middle","color":"#c9a40c"},"encoding":{"x":{"datum":79.4},"y":{"datum":6.74}}},
    {"data":{"values":[{}]},"mark":{"type":"text","text":"F","fontSize":18,"fontStyle":"italic","align":"left","baseline":"top"},"encoding":{"x":{"datum":-28.9},"y":{"datum":7.824}}}
   ]}
 ],"spacing":0,"bounds":"flush"},
 {"width":305,"height":1,"data":{"values":[]},"mark":"text"},
 {"width":213,"height":159,
  "layer":[
   {"data":{"values":[{}]},"mark":{"type":"rect","color":"#c8cbcb"},"encoding":{"x":{"datum":6.69},"x2":{"datum":6.94},"y":{"datum":0},"y2":{"datum":1.7}}},
   {"data":{"name":"gdata"},
    "layer":[
     {"mark":{"type":"rule","color":"#555","strokeWidth":1},"encoding":{
       "x":{"field":"x","type":"quantitative","scale":{"domain":[6.6,7.4],"nice":false,"zero":false},"axis":{"values":[6.6,6.65,6.7,6.75,6.8,6.85,6.9,6.95,7,7.05,7.1,7.15,7.2,7.25,7.3,7.35,7.4],"tickCount":100,"labelExpr":"round(datum.value*20)%2==0 ? format(datum.value,'.1f') : ''","title":"pHcyto","offset":6}},
       "y":{"field":"lo","type":"quantitative","scale":{"domain":[0,1.7],"nice":false},"axis":{"values":[0,0.25,0.5,0.75,1,1.25,1.5],"tickCount":100,"labelExpr":"round(datum.value*4)%2==0 ? format(datum.value,'.1f') : ''","title":"JH+ (mᴍ s⁻¹)"}},
       "y2":{"field":"hi"}}},
     {"mark":{"type":"tick","orient":"horizontal","color":"#555","size":6,"thickness":1},"encoding":{"x":{"field":"x","type":"quantitative"},"y":{"field":"lo","type":"quantitative"}}},
     {"mark":{"type":"tick","orient":"horizontal","color":"#555","size":6,"thickness":1},"encoding":{"x":{"field":"x","type":"quantitative"},"y":{"field":"hi","type":"quantitative"}}},
     {"mark":{"type":"point","size":45,"strokeWidth":1,"opacity":1},"encoding":{"x":{"field":"x","type":"quantitative"},"y":{"field":"m","type":"quantitative"},
       "shape":{"field":"s","type":"nominal","scale":{"domain":["Control","Vehicle","Dyngo-4a"],"range":["circle","triangle-down","square"]},"legend":null},
       "fill":{"field":"s","type":"nominal","scale":{"domain":["Control","Vehicle","Dyngo-4a"],"range":["#ffffff","#1c1ce6","#c9a40c"]},"legend":null},
       "stroke":{"field":"s","type":"nominal","scale":{"domain":["Control","Vehicle","Dyngo-4a"],"range":["#444444","#1c1ce6","#c9a40c"]},"legend":null}}}
    ]},
   {"data":{"values":[{"s":"Dyngo-4a","x":6.65,"v":1.37},{"s":"Dyngo-4a","x":7.0,"v":0.55},{"s":"Control","x":6.65,"v":0.64},{"s":"Control","x":7.0,"v":0.24},{"s":"Vehicle","x":6.7,"v":0.52},{"s":"Vehicle","x":7.0,"v":0.2}]},
    "mark":{"type":"line","color":"#000","strokeDash":[4,3],"strokeWidth":1.6},
    "encoding":{"x":{"field":"x","type":"quantitative"},"y":{"field":"v","type":"quantitative"},"detail":{"field":"s"}}},
   {"data":{"values":[{}]},"mark":{"type":"point","shape":"circle","fill":"#fff","stroke":"#444","size":30,"strokeWidth":1,"opacity":1},"encoding":{"x":{"datum":7.09},"y":{"datum":1.28}}},
   {"data":{"values":[{}]},"mark":{"type":"point","shape":"triangle-down","filled":true,"color":"#1c1ce6","size":45,"opacity":1},"encoding":{"x":{"datum":7.09},"y":{"datum":1.13}}},
   {"data":{"values":[{}]},"mark":{"type":"point","shape":"square","filled":true,"color":"#c9a40c","size":30,"opacity":1},"encoding":{"x":{"datum":7.09},"y":{"datum":0.985}}},
   {"data":{"values":[{}]},"mark":{"type":"text","text":"Control","fontSize":13.5,"align":"left","baseline":"middle","color":"#000"},"encoding":{"x":{"datum":7.125},"y":{"datum":1.28}}},
   {"data":{"values":[{}]},"mark":{"type":"text","text":"Vehicle","fontSize":13.5,"align":"left","baseline":"middle","color":"#1c1ce6"},"encoding":{"x":{"datum":7.125},"y":{"datum":1.13}}},
   {"data":{"values":[{}]},"mark":{"type":"text","text":"Dyngo-4a","fontSize":13.5,"align":"left","baseline":"middle","color":"#c9a40c"},"encoding":{"x":{"datum":7.125},"y":{"datum":0.985}}},
   {"data":{"values":[{}]},"mark":{"type":"text","text":"G","fontSize":18,"fontStyle":"italic","align":"left","baseline":"top"},"encoding":{"x":{"datum":6.378},"y":{"datum":1.935}}},
   {"data":{"values":[{}]},"mark":{"type":"text","text":"H","fontSize":18,"fontStyle":"italic","align":"left","baseline":"top"},"encoding":{"x":{"datum":7.464},"y":{"datum":1.743}}}
  ]},
 {"width":94,"height":1,"data":{"values":[]},"mark":"text"},
 {"vconcat":[
  {"width":84,"height":53,"data":{"values":[]},"mark":"text"},
  {"width":84,"height":128,
   "data":{"values":[{"g":"Control","m":-1.26,"lo":-1.47,"n":6},{"g":"Vehicle","m":-1.19,"lo":-1.32,"n":7},{"g":"Dyngo-4a","m":-2.15,"lo":-2.39,"n":6}]},
   "encoding":{"x":{"field":"g","type":"nominal","sort":["Control","Vehicle","Dyngo-4a"],"scale":{"paddingInner":0.38,"paddingOuter":0.38},
     "axis":{"orient":"top","title":null,"ticks":false,"domain":true,"labelAngle":45,"labelAlign":"right","labelBaseline":"middle","labelFontSize":14,"labelPadding":4,
       "labelColor":{"condition":[{"test":"datum.value=='Vehicle'","value":"#1c1ce6"},{"test":"datum.value=='Dyngo-4a'","value":"#c9a40c"}],"value":"#000"}}}},
   "layer":[
    {"mark":{"type":"bar","stroke":"#000","strokeWidth":0.8},"encoding":{
      "y":{"field":"m","type":"quantitative","scale":{"domain":[-2.5,0],"nice":false},"axis":{"values":[-2.5,-2.25,-2,-1.75,-1.5,-1.25,-1,-0.75,-0.5,-0.25,0],"tickCount":100,"labelExpr":"round(datum.value*4)%2==0 ? format(datum.value,'.1f') : ''","title":["JH+/pHcyto","(mᴍ pH• Unit⁻¹• s⁻¹)"],"titleFontSize":13,"labelFontSize":13}},
      "y2":{"datum":0},
      "fill":{"field":"g","type":"nominal","scale":{"domain":["Control","Vehicle","Dyngo-4a"],"range":["#3a3a3a","#1c1ce6","#c9a40c"]},"legend":null}}},
    {"mark":{"type":"rule","color":"#000","strokeWidth":1},"encoding":{"y":{"field":"m","type":"quantitative"},"y2":{"field":"lo"}}},
    {"mark":{"type":"tick","orient":"horizontal","color":"#000","size":6,"thickness":1},"encoding":{"y":{"field":"lo","type":"quantitative"}}},
    {"mark":{"type":"text","color":"#fff","fontSize":14,"baseline":"middle"},"encoding":{"y":{"datum":-0.16},"text":{"field":"n"}}},
    {"transform":[{"filter":"datum.g=='Dyngo-4a'"}],"mark":{"type":"text","text":"*","fontSize":14,"baseline":"middle"},"encoding":{"y":{"datum":-2.53}}}
   ]}
 ],"spacing":0,"bounds":"flush"}
],"spacing":0,"bounds":"flush","resolve":{"scale":{"color":"independent","fill":"independent","stroke":"independent","shape":"independent"}}}
],
"datasets":{"gdata":[
{"s":"Control","x":6.6,"m":0.76,"lo":0.67,"hi":0.85},{"s":"Control","x":6.65,"m":0.64,"lo":0.59,"hi":0.69},{"s":"Control","x":6.7,"m":0.61,"lo":0.54,"hi":0.68},{"s":"Control","x":6.75,"m":0.53,"lo":0.49,"hi":0.57},{"s":"Control","x":6.8,"m":0.45,"lo":0.42,"hi":0.48},{"s":"Control","x":6.85,"m":0.40,"lo":0.37,"hi":0.43},{"s":"Control","x":6.9,"m":0.35,"lo":0.32,"hi":0.38},{"s":"Control","x":6.95,"m":0.28,"lo":0.26,"hi":0.30},{"s":"Control","x":7.0,"m":0.25,"lo":0.23,"hi":0.27},{"s":"Control","x":7.05,"m":0.21,"lo":0.195,"hi":0.225},{"s":"Control","x":7.1,"m":0.165,"lo":0.15,"hi":0.18},{"s":"Control","x":7.15,"m":0.13,"lo":0.12,"hi":0.14},{"s":"Control","x":7.2,"m":0.10,"lo":0.09,"hi":0.11},{"s":"Control","x":7.25,"m":0.075,"lo":0.065,"hi":0.085},{"s":"Control","x":7.3,"m":0.06,"lo":0.05,"hi":0.07},{"s":"Control","x":7.35,"m":0.045,"lo":0.035,"hi":0.055},
{"s":"Vehicle","x":6.6,"m":0.64,"lo":0.51,"hi":0.77},{"s":"Vehicle","x":6.65,"m":0.55,"lo":0.46,"hi":0.64},{"s":"Vehicle","x":6.7,"m":0.50,"lo":0.41,"hi":0.59},{"s":"Vehicle","x":6.75,"m":0.46,"lo":0.39,"hi":0.53},{"s":"Vehicle","x":6.8,"m":0.38,"lo":0.32,"hi":0.44},{"s":"Vehicle","x":6.85,"m":0.34,"lo":0.29,"hi":0.39},{"s":"Vehicle","x":6.9,"m":0.30,"lo":0.26,"hi":0.34},{"s":"Vehicle","x":6.95,"m":0.25,"lo":0.22,"hi":0.28},{"s":"Vehicle","x":7.0,"m":0.215,"lo":0.195,"hi":0.235},{"s":"Vehicle","x":7.05,"m":0.18,"lo":0.16,"hi":0.20},{"s":"Vehicle","x":7.1,"m":0.14,"lo":0.125,"hi":0.155},{"s":"Vehicle","x":7.15,"m":0.105,"lo":0.095,"hi":0.115},{"s":"Vehicle","x":7.2,"m":0.08,"lo":0.07,"hi":0.09},{"s":"Vehicle","x":7.25,"m":0.06,"lo":0.05,"hi":0.07},{"s":"Vehicle","x":7.3,"m":0.045,"lo":0.035,"hi":0.055},{"s":"Vehicle","x":7.35,"m":0.03,"lo":0.02,"hi":0.04},
{"s":"Dyngo-4a","x":6.65,"m":1.46,"lo":1.33,"hi":1.59},{"s":"Dyngo-4a","x":6.7,"m":1.27,"lo":1.16,"hi":1.38},{"s":"Dyngo-4a","x":6.75,"m":1.085,"lo":1.005,"hi":1.165},{"s":"Dyngo-4a","x":6.8,"m":1.06,"lo":0.92,"hi":1.20},{"s":"Dyngo-4a","x":6.85,"m":0.84,"lo":0.76,"hi":0.92},{"s":"Dyngo-4a","x":6.9,"m":0.78,"lo":0.70,"hi":0.86},{"s":"Dyngo-4a","x":6.95,"m":0.70,"lo":0.61,"hi":0.79},{"s":"Dyngo-4a","x":7.0,"m":0.56,"lo":0.50,"hi":0.62},{"s":"Dyngo-4a","x":7.05,"m":0.50,"lo":0.43,"hi":0.57},{"s":"Dyngo-4a","x":7.1,"m":0.42,"lo":0.35,"hi":0.49},{"s":"Dyngo-4a","x":7.15,"m":0.33,"lo":0.28,"hi":0.38},{"s":"Dyngo-4a","x":7.2,"m":0.28,"lo":0.23,"hi":0.33},{"s":"Dyngo-4a","x":7.25,"m":0.21,"lo":0.17,"hi":0.25},{"s":"Dyngo-4a","x":7.3,"m":0.15,"lo":0.11,"hi":0.19},{"s":"Dyngo-4a","x":7.35,"m":0.11,"lo":0.08,"hi":0.14},{"s":"Dyngo-4a","x":7.4,"m":0.09,"lo":0.07,"hi":0.11}]}
}
